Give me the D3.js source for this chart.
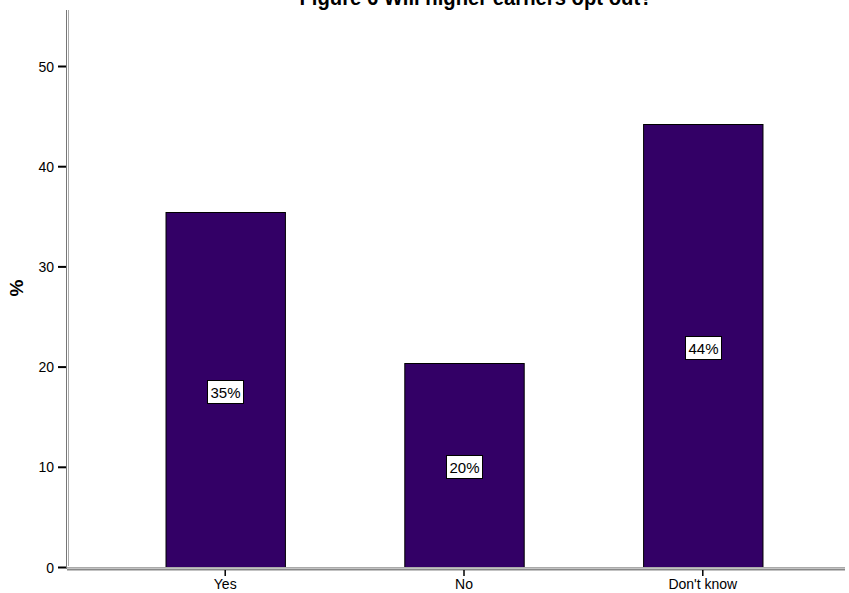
<!DOCTYPE html>
<html>
<head>
<meta charset="utf-8">
<script src="https://cdn.jsdelivr.net/npm/d3@7"></script>
<style>
  body { margin: 0; background: #fff; }
  svg { display: block; font-family: "Liberation Sans", Arial, sans-serif; }
</style>
</head>
<body>
<svg width="849" height="593"></svg>
<script>
// chart data
const categories = ["Yes", "No", "Don't know"];
const percents = [35.4, 20.4, 44.2];
const barLabels = ["35%", "20%", "44%"];
const yTicks = [0, 10, 20, 30, 40, 50];
const titleText = "Figure 6 Will higher earners opt out?";

function drawChart() {
  let svg = d3.select("svg");

  // scales
  let y = d3.scaleLinear().domain([0, 50]).range([567, 66]);
  let x = d3.scaleBand()
    .domain(categories)
    .range([70, 858])
    .paddingInner(0.5)
    .paddingOuter(0.4);

  // title, partly off the top of the picture as in the original
  svg.append("text")
    .attr("x", 476)
    .attr("y", 5)
    .attr("text-anchor", "middle")
    .attr("font-size", 22)
    .attr("font-weight", "bold")
    .attr("textLength", 353)
    .attr("lengthAdjust", "spacingAndGlyphs")
    .text(titleText);

  // bars
  let plot = svg.append("g");
  plot.selectAll("rect.bar")
    .data(percents)
    .enter()
    .append("rect")
    .attr("class", "bar")
    .attr("x", (d, i) => x(categories[i]) + 0.5)
    .attr("y", (d) => Math.round(y(d)) + 0.5)
    .attr("width", x.bandwidth())
    .attr("height", (d) => y(0) - Math.round(y(d)))
    .attr("fill", "#330066")
    .attr("stroke", "#000")
    .attr("stroke-width", 1);

  // value labels in white boxes
  percents.forEach((d, i) => {
    let cx = Math.round(x(categories[i]) + x.bandwidth() / 2);
    let cy = Math.round(y(d / 2)) + 2;
    let g = plot.append("g").attr("transform", `translate(${cx},${cy})`);
    g.append("rect")
      .attr("x", -17.5)
      .attr("y", -11.5)
      .attr("width", 36)
      .attr("height", 23)
      .attr("fill", "#fff")
      .attr("stroke", "#000");
    g.append("text")
      .attr("text-anchor", "middle")
      .attr("x", 0.5)
      .attr("y", 5.5)
      .attr("font-size", 15)
      .text(barLabels[i]);
  });

  // y axis
  let yAxis = svg.append("g")
    .attr("transform", "translate(66,0)")
    .call(d3.axisLeft(y).tickValues(yTicks).tickSize(8).tickSizeOuter(0));
  yAxis.select(".domain").remove();
  yAxis.selectAll(".tick line").attr("stroke", "#000").attr("stroke-width", 2);
  yAxis.selectAll(".tick text")
    .attr("font-size", 14)
    .attr("font-family", "Liberation Sans, Arial, sans-serif")
    .attr("fill", "#000")
    .attr("dx", "-1")
    .attr("dy", "0.36em");

  // double axis lines
  svg.append("line").attr("x1", 66.5).attr("x2", 66.5).attr("y1", 10).attr("y2", 569)
    .attr("stroke", "#777");
  svg.append("line").attr("x1", 68.5).attr("x2", 68.5).attr("y1", 10).attr("y2", 566)
    .attr("stroke", "#aaa");
  svg.append("line").attr("x1", 67).attr("x2", 845).attr("y1", 567.5).attr("y2", 567.5)
    .attr("stroke", "#aaa");
  svg.append("line").attr("x1", 67).attr("x2", 845).attr("y1", 569.5).attr("y2", 569.5)
    .attr("stroke", "#888").attr("stroke-width", 2);

  // x axis ticks and labels
  let xAxis = svg.append("g")
    .attr("transform", "translate(0,570)")
    .call(d3.axisBottom(x).tickSize(6).tickSizeOuter(0));
  xAxis.select(".domain").remove();
  xAxis.selectAll(".tick line").attr("stroke", "#000").attr("stroke-width", 1.5);
  xAxis.selectAll(".tick text")
    .attr("font-size", 14)
    .attr("font-family", "Liberation Sans, Arial, sans-serif")
    .attr("fill", "#000")
    .attr("y", 9)
    .attr("dy", "0.71em");

  // y axis title
  svg.append("text")
    .attr("transform", "translate(23,288) rotate(-90)")
    .attr("text-anchor", "middle")
    .attr("font-size", 19)
    .attr("font-weight", "bold")
    .text("%");
}

drawChart();
</script>
</body>
</html>
